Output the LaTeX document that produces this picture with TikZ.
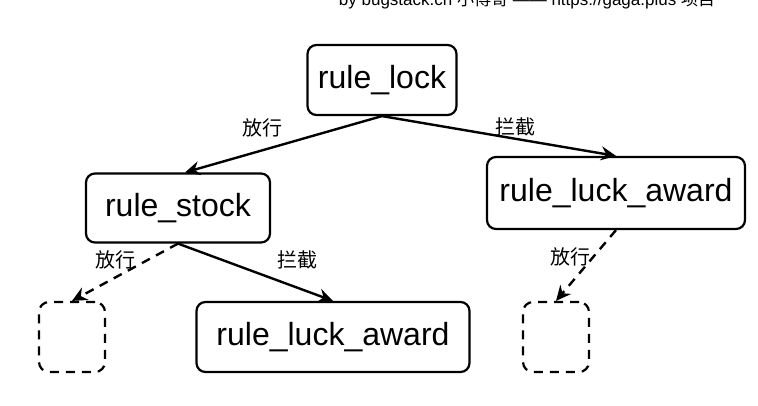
\documentclass[tikz,border=0pt]{standalone}
\usepackage{fontspec}
\setmainfont{Liberation Sans}
\newfontfamily\cjk{Noto Sans CJK SC}
\usetikzlibrary{arrows.meta}

\begin{document}
\begin{tikzpicture}[x=1pt,y=-1pt,
	rulebox/.style={draw,line width=2.2pt,rounded corners=9pt,font=\fontsize{32}{36}\selectfont,inner sep=0pt},
	emptybox/.style={draw,line width=2.2pt,rounded corners=10pt,dash pattern=on 9pt off 7pt,minimum width=66pt,minimum height=70pt,inner sep=0pt},
	flow/.style={line width=2.4pt,-{Stealth[length=15pt,width=14pt,inset=5pt]}},
	pass/.style={flow,dash pattern=on 9pt off 7pt},
	lbl/.style={font=\cjk\fontsize{20}{22}\selectfont,inner sep=0pt}
	]
	\useasboundingbox (0,0) rectangle (758,406);
	
	\node[anchor=base,font=\fontsize{17}{19}\selectfont,inner sep=0pt] (credit) at (527,6) {by bugstack.cn {\cjk 小傅哥} —— https://gaga.plus {\cjk 项目}};
	
	%rules
	\node[rulebox,minimum width=149pt,minimum height=70pt] (lock) at (382,80) {rule\_lock};
	\node[rulebox,minimum width=184pt,minimum height=69pt] (stock) at (178,208) {rule\_stock};
	\node[rulebox,minimum width=258pt,minimum height=72pt] (award1) at (616,193) {rule\_luck\_award};
	\node[rulebox,minimum width=273pt,minimum height=70pt] (award2) at (333,337) {rule\_luck\_award};
	
	%empty
	\node[emptybox] (end1) at (72,337) {};
	\node[emptybox] (end2) at (556,337) {};
	
	%connections
	\draw[flow] (lock.south) -- ([xshift=7pt]stock.north);
	\draw[flow] (lock.south) -- (award1.north);
	\draw[pass] (stock.south) -- (end1.north);
	\draw[flow] (stock.south) -- (award2.north);
	\draw[pass] (award1.south) -- (end2.north);
	
	%labels
	\node[lbl] (pass1) at (262,128) {放行};
	\node[lbl] (block1) at (515,127) {拦截};
	\node[lbl] (pass2) at (115,260) {放行};
	\node[lbl] (block2) at (297,260) {拦截};
	\node[lbl] (pass3) at (570,257) {放行};
	
\end{tikzpicture}
\end{document}
